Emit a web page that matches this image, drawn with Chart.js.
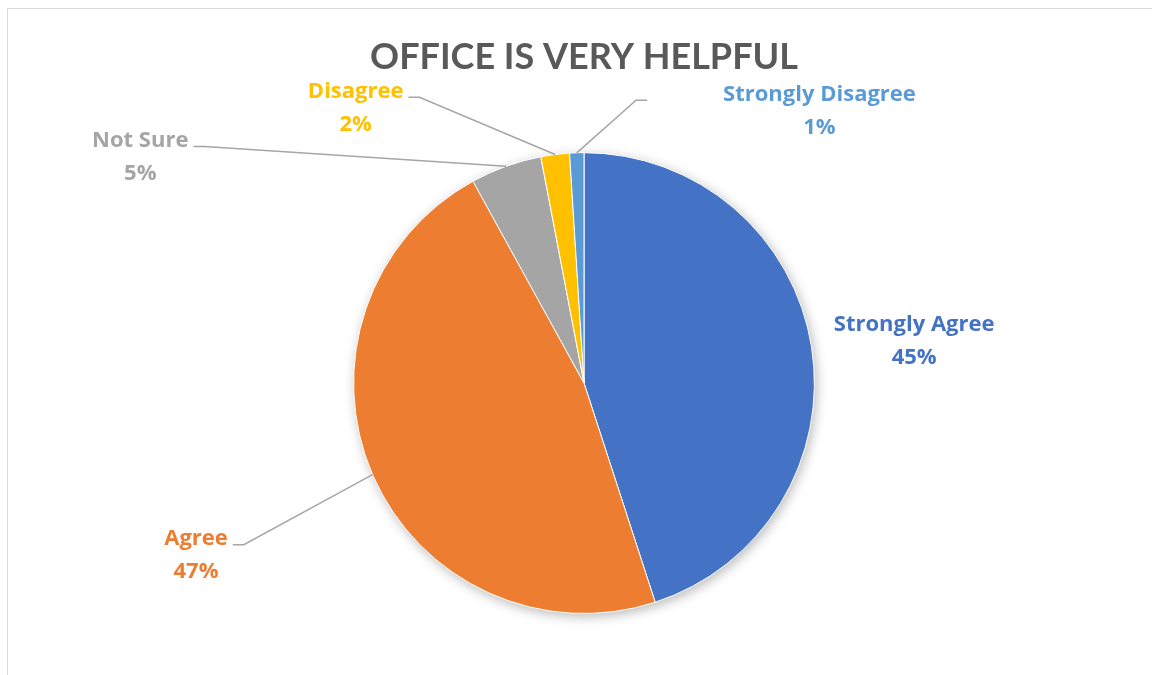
<!DOCTYPE html>
<html>
<head>
<meta charset="utf-8">
<script src="https://cdn.jsdelivr.net/npm/chart.js@4"></script>
<style>
  html, body { margin: 0; padding: 0; background: #fff; overflow: hidden; }
  #wrap { position: relative; width: 1152px; height: 675px; }
  #frame { position: absolute; left: 7px; top: 8px; width: 1160px; height: 680px; border: 1px solid #d9d9d9; box-sizing: border-box; }
  canvas { position: absolute; left: 0; top: 0; }
</style>
</head>
<body>
<div id="wrap">
  <div id="frame"></div>
  <canvas id="pieChart" width="1152" height="675"></canvas>
</div>
<script>
// data
const categories = ["Strongly Agree", "Agree", "Not Sure", "Disagree", "Strongly Disagree"];
const shares = [45, 47, 5, 2, 1];
const pctLabels = ["45%", "47%", "5%", "2%", "1%"];

const sliceColors = ["#4472C4", "#ED7D31", "#A5A5A5", "#FFC000", "#5B9BD5"];
// label block centre, relative to pie centre, in units of the radius
const labelPos = [[1.433, -0.182], [-1.684, 0.745], [-1.926, -0.983], [-0.991, -1.197], [1.022, -1.184]];
// gap between text edge and leader line (null = no leader)
const leaderGap = [null, 5, 5, 5, 76];

const TITLE_FONT = "Lato, 'Open Sans', sans-serif";
const LABEL_FONT = "'Open Sans', Lato, sans-serif";

// soft shadow under the pie
const pieShadow = {
  id: "pieShadow",
  beforeDatasetsDraw(chart) {
    const arc = chart.getDatasetMeta(0).data[0];
    if (!arc) return;
    const ctx = chart.ctx;
    ctx.save();
    ctx.shadowColor = "rgba(0,0,0,0.28)";
    ctx.shadowBlur = 12;
    ctx.shadowOffsetX = 2;
    ctx.shadowOffsetY = 3;
    ctx.fillStyle = "#fff";
    ctx.beginPath();
    ctx.arc(arc.x, arc.y, arc.outerRadius, 0, Math.PI * 2);
    ctx.fill();
    ctx.restore();
  }
};

// Excel style outside labels with leader lines
const outsideLabels = {
  id: "outsideLabels",
  afterDatasetsDraw(chart) {
    const ctx = chart.ctx;
    const meta = chart.getDatasetMeta(0);
    meta.data.forEach((arc, i) => {
      const r = arc.outerRadius;
      const lx = arc.x + labelPos[i][0] * r;
      const ly = arc.y + labelPos[i][1] * r;
      ctx.save();
      ctx.font = "bold 22px " + LABEL_FONT;
      ctx.textAlign = "center";
      ctx.textBaseline = "middle";
      ctx.fillStyle = sliceColors[i];
      ctx.fillText(categories[i], lx, ly - 16);
      ctx.fillText(pctLabels[i], lx, ly + 17);
      if (leaderGap[i] !== null) {
        const w = ctx.measureText(categories[i]).width;
        const mid = (arc.startAngle + arc.endAngle) / 2;
        const ex = arc.x + Math.cos(mid) * r;
        const ey = arc.y + Math.sin(mid) * r;
        const side = ex > lx ? 1 : -1;
        const sx = lx + side * (w / 2 + leaderGap[i]);
        const sy = ly - 10;
        ctx.strokeStyle = "#a6a6a6";
        ctx.lineWidth = 1.5;
        ctx.beginPath();
        ctx.moveTo(sx, sy);
        ctx.lineTo(sx + side * 11, sy);
        ctx.lineTo(ex, ey);
        ctx.stroke();
      }
      ctx.restore();
    });
  }
};

new Chart(document.getElementById("pieChart").getContext("2d"), {
  type: "pie",
  data: {
    labels: categories,
    datasets: [{
      data: shares,
      backgroundColor: sliceColors,
      borderColor: "#ffffff",
      borderWidth: 1
    }]
  },
  options: {
    responsive: false,
    animation: false,
    layout: { padding: { top: 30, bottom: 61, left: 353, right: 337 } },
    plugins: {
      legend: { display: false },
      tooltip: { enabled: false },
      title: {
        display: true,
        text: "OFFICE IS VERY HELPFUL",
        color: "#595959",
        font: { family: TITLE_FONT, size: 36, weight: "bold", lineHeight: 1.2 },
        padding: { top: 6, bottom: 73 }
      }
    }
  },
  plugins: [pieShadow, outsideLabels]
});
</script>
</body>
</html>
